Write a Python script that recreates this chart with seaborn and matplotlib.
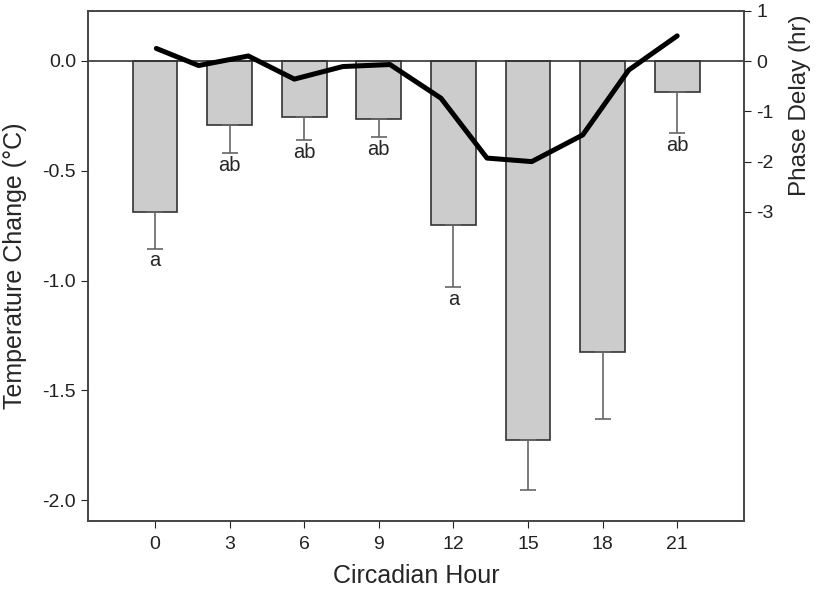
import seaborn as sns
import matplotlib.pyplot as plt
import pandas as pd
from matplotlib.ticker import FormatStrFormatter

# bars: temperature change by circadian hour
hours = ['0', '3', '6', '9', '12', '15', '18', '21']
temp_change = [-0.69, -0.29, -0.255, -0.265, -0.745, -1.725, -1.325, -0.14]
temp_err = [0.165, 0.13, 0.105, 0.08, 0.285, 0.23, 0.305, 0.19]
letters = ['a', 'ab', 'ab', 'ab', 'a', '', '', 'ab']

# line: phase delay (hr)
phase_hours = [0.05, 1.75, 3.75, 5.6, 7.55, 9.45, 11.5, 13.35, 15.15, 17.2, 19.05, 21.0]
phase_delay = [0.25, -0.09, 0.10, -0.36, -0.11, -0.07, -0.74, -1.93, -2.0, -1.47, -0.18, 0.5]

sns.set_style("ticks")
plt.rcParams['font.family'] = ['Liberation Sans', 'DejaVu Sans']
plt.rcParams['axes.unicode_minus'] = False

df = pd.DataFrame({"hour": hours, "temp": temp_change})

fig = plt.figure(figsize=(8.19, 5.92), dpi=100)
ax = fig.add_axes([0.1074, 0.1204, 0.8014, 0.8615])

sns.barplot(data=df, x="hour", y="temp", color="#cccccc", edgecolor="#333333",
            linewidth=1.2, width=0.6, saturation=1, ax=ax)

# one-sided (downward) error bars
pos = list(range(len(hours)))
ax.errorbar(pos, temp_change, yerr=[temp_err, [0] * len(hours)], fmt='none',
            ecolor='#666666', elinewidth=1.2, capsize=6, capthick=1.2)

for i, lab in enumerate(letters):
    if lab:
        ax.annotate(lab, (i, temp_change[i] - temp_err[i]), xytext=(0, -2),
                    textcoords='offset points', ha='center', va='top', fontsize=14.5)

ax.axhline(0, color='#333333', lw=1.2, zorder=1)
ax.set_ylim(-2.094, 0.229)
ax.set_xlim(-0.9, 7.9)
ax.set_yticks([0.0, -0.5, -1.0, -1.5, -2.0])
ax.yaxis.set_major_formatter(FormatStrFormatter('%.1f'))
ax.set_xlabel("Circadian Hour", fontsize=18)
ax.set_ylabel("Temperature Change (°C)", fontsize=18)
ax.xaxis.set_label_coords(0.5, -0.085)
ax.yaxis.set_label_coords(-0.093, 0.5)
ax.tick_params(labelsize=14, colors='#222222', length=5)
ax.tick_params(axis='x', pad=6)

ax2 = ax.twinx()
sns.lineplot(x=[h / 3 for h in phase_hours], y=phase_delay, color='black',
             linewidth=3.6, ax=ax2)
ax2.set_ylim(-9.14, 1.0)
ax2.set_yticks([1, 0, -1, -2, -3])
ax2.set_ylabel("Phase Delay (hr)", fontsize=17.5)
ax2.yaxis.set_label_coords(1.068, 0.815)
ax2.tick_params(labelsize=14, colors='#222222', length=5)
ax2.set_xlim(-0.9, 7.9)

for a in (ax, ax2):
    for s in a.spines.values():
        s.set_color('#444444')
        s.set_linewidth(1.2)

fig.savefig("out.png", dpi=100)
